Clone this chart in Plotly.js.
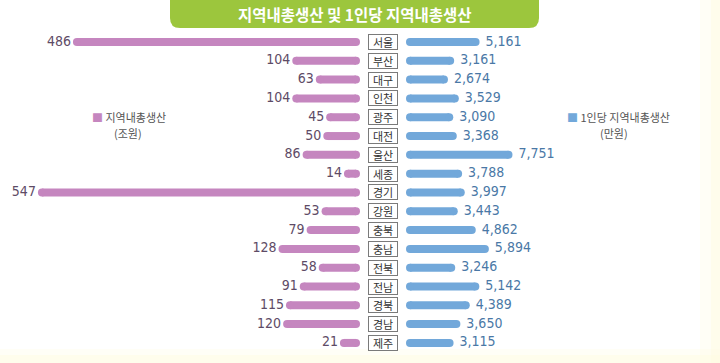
<!DOCTYPE html>
<html>
<head>
<meta charset="utf-8">
<script src="https://cdn.plot.ly/plotly-3.0.1.min.js"></script>
<style>
html,body{margin:0;padding:0;background:#ffffff;}
#chart{width:720px;height:363px;}
</style>
</head>
<body>
<div id="chart"></div>
<script>
const regions = ['서울','부산','대구','인천','광주','대전','울산','세종','경기','강원','충북','충남','전북','전남','경북','경남','제주'];
const grdp = [486,104,63,104,45,50,86,14,547,53,79,128,58,91,115,120,21];
const perCapita = [5161,3161,2674,3529,3090,3368,7751,3788,3997,3443,4862,5894,3246,5142,4389,3650,3115];
const titleText = '지역내총생산 및 1인당 지역내총생산';
const leftLegend = ['지역내총생산', '(조원)'];
const rightLegend = ['1인당 지역내총생산', '(만원)'];

const pink = '#c586bf';
const blue = '#72a8da';
const numFont = "'Liberation Sans Narrow','DejaVu Sans Condensed','Roboto',sans-serif";
const krFont = "'Noto Sans CJK KR','Noto Sans',sans-serif";

function segs(vals){
  const xs=[], ys=[];
  vals.forEach((v,i)=>{ xs.push(0, v, null); ys.push(regions[i], regions[i], null); });
  return {xs, ys};
}
const L = segs(grdp), R = segs(perCapita);
const zeros = regions.map(()=>0);
const fmt = v => v.toLocaleString('en-US');

const traces = [
  {x:L.xs, y:L.ys, xaxis:'x', yaxis:'y', mode:'lines', line:{color:pink,width:8}, cliponaxis:false, hoverinfo:'skip'},
  {x:zeros, y:regions, xaxis:'x', yaxis:'y', mode:'markers', marker:{color:pink,size:8}, cliponaxis:false, hoverinfo:'skip'},
  {x:grdp, y:regions, xaxis:'x', yaxis:'y', mode:'markers+text', marker:{color:pink,size:8},
   text:grdp.map(fmt), textposition:'middle left', textfont:{family:numFont,size:14,color:'#5e4b66'}, cliponaxis:false, hoverinfo:'skip'},
  {x:R.xs, y:R.ys, xaxis:'x2', yaxis:'y', mode:'lines', line:{color:blue,width:8}, cliponaxis:false, hoverinfo:'skip'},
  {x:zeros, y:regions, xaxis:'x2', yaxis:'y', mode:'markers', marker:{color:blue,size:8}, cliponaxis:false, hoverinfo:'skip'},
  {x:perCapita, y:regions, xaxis:'x2', yaxis:'y', mode:'markers+text', marker:{color:blue,size:8},
   text:perCapita.map(v=>' '+fmt(v)), textposition:'middle right', textfont:{family:numFont,size:14,color:'#4a78a6'}, cliponaxis:false, hoverinfo:'skip'}
];

const annotations = regions.map(r=>({
  xref:'paper', yref:'y', x:383/720, y:r, text:r, showarrow:false,
  font:{family:krFont,size:11,color:'#333333'}, width:26, height:12,
  bordercolor:'#7a7a7a', borderwidth:1, borderpad:1, bgcolor:'#ffffff', xanchor:'center', yanchor:'middle', valign:'middle'
}));
annotations.push(
  {xref:'paper', yref:'paper', x:355/720, y:1-14/363, text:'<b>'+titleText+'</b>', showarrow:false,
   font:{family:krFont,size:15.5,color:'#ffffff'}, xanchor:'center', yanchor:'middle'},
  {xref:'paper', yref:'paper', x:90/720, y:1-117/363, text:'<span style="color:'+pink+'">■</span> '+leftLegend[0], showarrow:false,
   font:{family:krFont,size:11,color:'#555555'}, xanchor:'left', yanchor:'middle'},
  {xref:'paper', yref:'paper', x:128/720, y:1-133/363, text:leftLegend[1], showarrow:false,
   font:{family:krFont,size:11,color:'#555555'}, xanchor:'center', yanchor:'middle'},
  {xref:'paper', yref:'paper', x:565/720, y:1-117/363, text:'<span style="color:'+blue+'">■</span> '+rightLegend[0], showarrow:false,
   font:{family:krFont,size:11,color:'#555555'}, xanchor:'left', yanchor:'middle'},
  {xref:'paper', yref:'paper', x:614/720, y:1-133/363, text:rightLegend[1], showarrow:false,
   font:{family:krFont,size:11,color:'#555555'}, xanchor:'center', yanchor:'middle'}
);

// title box with rounded bottom corners (paper coords)
const x0=170/720, x1=539/720, yb=1-28/363, rx=10/720, ry=10/363;
const titlePath = `M ${x0} 1.02 L ${x0} ${yb+ry} Q ${x0} ${yb} ${x0+rx} ${yb} L ${x1-rx} ${yb} Q ${x1} ${yb} ${x1} ${yb+ry} L ${x1} 1.02 Z`;

const shapes = [
  {type:'rect', xref:'paper', yref:'paper', x0:0, x1:1, y0:0, y1:14/363, fillcolor:'#fffbe6', opacity:0.35, line:{width:0}, layer:'below'},
  {type:'rect', xref:'paper', yref:'paper', x0:0, x1:1, y0:0, y1:8/363, fillcolor:'#fffbe2', opacity:0.5, line:{width:0}, layer:'below'},
  {type:'rect', xref:'paper', yref:'paper', x0:1-20/720, x1:1, y0:0, y1:1, fillcolor:'#fffbe6', opacity:0.35, line:{width:0}, layer:'below'},
  {type:'rect', xref:'paper', yref:'paper', x0:1-9/720, x1:1, y0:0, y1:1, fillcolor:'#fffbe2', opacity:0.5, line:{width:0}, layer:'below'},
  {type:'path', xref:'paper', yref:'paper', path:titlePath, fillcolor:'#9cc63d', line:{width:0}, layer:'below'}
];

const layout = {
  width:720, height:363,
  margin:{l:0,r:0,t:0,b:0},
  paper_bgcolor:'#ffffff', plot_bgcolor:'rgba(0,0,0,0)',
  showlegend:false,
  xaxis:{domain:[0,356/720], range:[620,0], visible:false, fixedrange:true},
  xaxis2:{domain:[410/720,1], range:[0,24400], visible:false, fixedrange:true, anchor:'y'},
  yaxis:{type:'category', categoryarray:regions, categoryorder:'array', range:[17.067,-2.233], visible:false, fixedrange:true},
  annotations, shapes
};

Plotly.newPlot('chart', traces, layout, {displayModeBar:false, staticPlot:true});
</script>
</body>
</html>
